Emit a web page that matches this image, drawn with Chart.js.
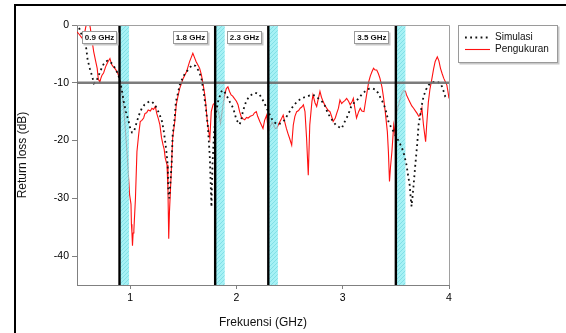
<!DOCTYPE html>
<html><head><meta charset="utf-8">
<script src="https://cdn.jsdelivr.net/npm/chart.js@4.4.0/dist/chart.umd.min.js"></script>
<style>html,body{margin:0;padding:0;background:#fff;}#wrap{width:566px;height:333px;position:relative;}</style>
</head><body><div id="wrap"><canvas id="c" width="566" height="333"></canvas></div>
<script>
// ---- data ----
const seriesNames = ['Simulasi', 'Pengukuran'];
const freqSim = [0.52,0.55,0.585,0.60,0.62,0.64,0.66,0.68,0.70,0.72,0.74,0.76,0.785,0.81,0.835,0.86,0.89,0.91,0.925,0.94,0.96,0.986,1.00,1.017,1.035,1.05,1.064,1.085,1.11,1.135,1.16,1.18,1.205,1.23,1.25,1.275,1.30,1.315,1.33,1.343,1.353,1.36,1.368,1.38,1.39,1.40,1.42,1.43,1.45,1.466,1.50,1.52,1.544,1.565,1.59,1.615,1.64,1.655,1.67,1.685,1.70,1.715,1.73,1.74,1.75,1.765,1.775,1.79,1.81,1.83,1.86,1.88,1.91,1.94,1.97,2.00,2.03,2.045,2.06,2.09,2.115,2.14,2.165,2.19,2.215,2.24,2.27,2.30,2.33,2.36,2.39,2.42,2.45,2.49,2.52,2.545,2.57,2.61,2.66,2.69,2.72,2.745,2.77,2.795,2.82,2.84,2.86,2.885,2.91,2.935,2.96,2.99,3.02,3.05,3.08,3.11,3.15,3.18,3.21,3.235,3.26,3.285,3.31,3.33,3.35,3.375,3.40,3.415,3.43,3.455,3.48,3.505,3.53,3.55,3.57,3.585,3.60,3.615,3.63,3.64,3.648,3.655,3.667,3.683,3.70,3.714,3.73,3.745,3.76,3.783,3.808,3.84,3.87,3.895,3.92,3.935,3.95,3.965,3.98];
const rlSim = [-0.5,-2.0,-3.8,-6.0,-7.5,-8.7,-10.1,-9.8,-8.9,-8.0,-7.1,-6.5,-6.2,-6.3,-6.8,-7.5,-8.7,-10.1,-11.6,-13.3,-15.0,-16.7,-17.8,-18.6,-18.5,-17.6,-16.7,-15.5,-14.4,-13.8,-13.5,-13.2,-13.3,-13.7,-14.4,-15.4,-16.7,-18.2,-20.2,-22.2,-24.2,-28.8,-30.0,-27.0,-24.2,-19.0,-16.0,-13.3,-11.8,-10.4,-8.9,-8.3,-7.8,-7.3,-6.9,-7.1,-7.8,-8.4,-9.2,-10.8,-12.7,-14.8,-17.3,-20.0,-23.0,-31.5,-24.0,-18.5,-15.0,-13.0,-11.5,-11.3,-12.3,-13.4,-14.4,-16.4,-17.2,-16.5,-15.0,-13.3,-12.5,-12.1,-11.8,-11.8,-12.0,-12.7,-13.8,-15.0,-16.2,-16.9,-17.2,-17.0,-16.5,-15.3,-14.4,-13.8,-13.3,-12.7,-12.4,-12.2,-12.1,-12.3,-12.7,-13.1,-13.5,-14.3,-15.3,-16.0,-16.7,-17.3,-17.6,-17.9,-16.7,-15.6,-14.1,-13.4,-12.7,-12.0,-11.5,-11.1,-11.0,-11.0,-11.2,-11.7,-12.4,-13.3,-14.4,-15.5,-16.7,-17.7,-18.5,-19.4,-20.2,-21.0,-21.9,-23.0,-24.2,-26.0,-27.7,-30.0,-31.4,-30.0,-27.7,-24.2,-20.8,-17.3,-15.6,-13.8,-12.4,-11.2,-10.4,-9.9,-9.8,-9.9,-10.1,-10.7,-11.5,-12.4,-12.6];
const freqMeas = [0.50,0.52,0.545,0.57,0.595,0.61,0.625,0.64,0.657,0.675,0.69,0.70,0.715,0.725,0.735,0.75,0.77,0.79,0.81,0.825,0.84,0.86,0.88,0.90,0.91,0.94,0.97,0.995,1.008,1.012,1.017,1.022,1.028,1.035,1.05,1.064,1.08,1.095,1.11,1.127,1.14,1.155,1.17,1.19,1.205,1.22,1.237,1.25,1.265,1.28,1.295,1.31,1.32,1.33,1.347,1.356,1.363,1.37,1.387,1.40,1.42,1.434,1.45,1.466,1.50,1.53,1.56,1.575,1.59,1.605,1.62,1.64,1.654,1.67,1.685,1.70,1.71,1.726,1.74,1.75,1.763,1.78,1.795,1.81,1.83,1.85,1.874,1.89,1.905,1.92,1.935,1.95,1.965,1.98,2.00,2.015,2.03,2.046,2.06,2.078,2.095,2.11,2.13,2.156,2.17,2.187,2.20,2.22,2.235,2.25,2.265,2.285,2.30,2.32,2.335,2.35,2.365,2.38,2.395,2.41,2.425,2.44,2.455,2.47,2.485,2.50,2.52,2.535,2.55,2.567,2.585,2.60,2.615,2.63,2.645,2.66,2.676,2.69,2.71,2.72,2.74,2.755,2.77,2.786,2.80,2.817,2.835,2.85,2.865,2.88,2.895,2.91,2.93,2.945,2.96,2.974,2.99,3.005,3.02,3.037,3.055,3.07,3.09,3.10,3.115,3.13,3.15,3.165,3.18,3.20,3.215,3.23,3.245,3.26,3.275,3.29,3.305,3.32,3.335,3.35,3.37,3.385,3.40,3.42,3.43,3.44,3.45,3.463,3.48,3.494,3.51,3.53,3.557,3.575,3.59,3.60,3.62,3.636,3.65,3.667,3.685,3.70,3.715,3.73,3.745,3.76,3.78,3.79,3.806,3.82,3.84,3.855,3.87,3.89,3.905,3.92,3.935,3.95,3.965,3.98,3.99,4.00];
const rlMeas = [-1.2,-1.6,-2.2,-1.5,0.8,1.0,-0.5,-2.5,-4.6,-6.2,-7.5,-9.3,-9.9,-9.2,-8.7,-8.3,-7.2,-6.4,-5.8,-6.8,-7.2,-7.6,-8.2,-9.2,-10.1,-14.4,-21.9,-29.4,-31.0,-34.5,-36.0,-38.2,-36.0,-35.5,-30.0,-21.9,-19.0,-16.7,-16.5,-16.1,-15.3,-15.2,-14.7,-14.9,-14.4,-14.6,-14.1,-15.3,-16.2,-17.3,-19.5,-20.8,-21.5,-23.0,-24.2,-28.8,-37.0,-32.3,-25.4,-19.6,-16.7,-13.8,-12.3,-11.0,-9.2,-8.1,-6.3,-5.6,-4.9,-5.6,-6.3,-7.0,-7.5,-8.6,-10.1,-11.8,-13.3,-16.7,-18.5,-19.6,-15.0,-13.8,-13.5,-14.0,-15.0,-17.0,-13.8,-12.0,-11.0,-10.7,-11.5,-12.1,-12.3,-12.7,-13.2,-13.8,-15.0,-15.9,-16.2,-16.4,-16.0,-16.1,-15.8,-15.6,-15.2,-15.0,-15.8,-16.7,-17.3,-17.9,-16.5,-15.6,-18.5,-17.5,-16.8,-17.3,-17.9,-17.9,-17.2,-16.7,-16.2,-15.6,-16.8,-17.9,-18.8,-19.6,-20.8,-17.3,-15.8,-15.0,-14.8,-14.4,-14.2,-13.8,-15.0,-19.6,-26.0,-17.3,-13.3,-12.1,-13.5,-14.1,-12.8,-11.5,-12.5,-13.3,-14.0,-14.4,-14.8,-15.0,-15.8,-16.7,-16.1,-15.2,-14.4,-13.0,-13.6,-13.3,-13.1,-12.7,-13.2,-13.8,-13.2,-12.7,-14.5,-16.1,-15.0,-14.4,-14.9,-15.0,-13.2,-11.5,-9.8,-8.8,-8.1,-7.5,-7.8,-7.8,-8.4,-9.2,-10.8,-12.7,-15.0,-18.5,-22.0,-27.1,-24.5,-21.9,-17.3,-19.0,-15.0,-13.5,-11.8,-11.3,-11.5,-12.1,-12.9,-13.5,-14.0,-14.4,-14.9,-15.3,-15.8,-15.6,-14.4,-17.3,-20.2,-17.3,-13.3,-11.2,-9.2,-7.6,-6.3,-5.5,-6.2,-7.5,-8.4,-9.2,-9.8,-10.4,-11.5,-12.7];
const xTickValues = [1, 2, 3, 4];
const yTickValues = [0, -10, -20, -30, -40];
const bandStart = [0.9, 1.8, 2.3, 3.5];
const bandEnd = [0.99, 1.89, 2.39, 3.59];
const bandLabels = ['0.9 GHz', '1.8 GHz', '2.3 GHz', '3.5 GHz'];
const refLevel = [-10];

// ---- annotation placement (GHz centres of label boxes) ----
const labelCentres = [0.712, 1.568, 2.076, 3.275];

Chart.defaults.font.family = 'Arial, "Liberation Sans", sans-serif';

function makePattern(ctx) {
  const p = document.createElement('canvas');
  p.width = 4; p.height = 4;
  const g = p.getContext('2d');
  g.fillStyle = '#8eedf2';
  g.fillRect(0, 0, 4, 4);
  g.strokeStyle = '#5fd6df';
  g.lineWidth = 1;
  g.beginPath();
  g.moveTo(0, 4); g.lineTo(4, 0);
  g.moveTo(-1, 1); g.lineTo(1, -1);
  g.moveTo(3, 5); g.lineTo(5, 3);
  g.stroke();
  return ctx.createPattern(p, 'repeat');
}

function boxWithShadow(ctx, x, y, w, h) {
  ctx.fillStyle = '#c8c8c8';
  ctx.fillRect(x + 1.5, y + 1.5, w, h);
  ctx.fillStyle = '#fff';
  ctx.fillRect(x, y, w, h);
  ctx.strokeStyle = '#9a9a9a';
  ctx.lineWidth = 1;
  ctx.strokeRect(x + 0.5, y + 0.5, w - 1, h - 1);
}

const deco = {
  id: 'deco',
  afterDatasetDraw(chart, args) {
    if (args.index !== 1) return;
    const {ctx, chartArea: a, scales: {x}} = chart;
    ctx.save();
    ctx.globalAlpha = 0.78;
    ctx.fillStyle = makePattern(ctx);
    for (let i = 0; i < bandStart.length; i++) {
      const x0 = x.getPixelForValue(bandStart[i]);
      const x1 = x.getPixelForValue(bandEnd[i]);
      ctx.fillRect(x0, a.top, x1 - x0, a.bottom - a.top);
    }
    ctx.restore();
  },
  afterDatasetsDraw(chart) {
    const {ctx, chartArea: a, scales: {x, y}} = chart;
    ctx.save();
    // reference level
    const yr = y.getPixelForValue(refLevel[0]);
    ctx.strokeStyle = 'rgba(110,110,110,0.9)';
    ctx.lineWidth = 2.6;
    ctx.beginPath(); ctx.moveTo(a.left, yr); ctx.lineTo(a.right, yr); ctx.stroke();
    // band start lines
    ctx.strokeStyle = '#000';
    ctx.lineWidth = 2.4;
    for (const f of bandStart) {
      const xp = x.getPixelForValue(f);
      ctx.beginPath(); ctx.moveTo(xp, a.top); ctx.lineTo(xp, a.bottom); ctx.stroke();
    }
    // plot frame top/right
    ctx.strokeStyle = '#a0a0a0';
    ctx.lineWidth = 1;
    ctx.beginPath();
    ctx.moveTo(a.left, a.top + 0.5); ctx.lineTo(a.right + 0.5, a.top + 0.5); ctx.lineTo(a.right + 0.5, a.bottom);
    ctx.stroke();
    // labels
    ctx.font = 'bold 8px Arial, "Liberation Sans", sans-serif';
    ctx.textAlign = 'center';
    ctx.textBaseline = 'middle';
    for (let i = 0; i < bandLabels.length; i++) {
      const cx = x.getPixelForValue(labelCentres[i]);
      boxWithShadow(ctx, Math.round(cx - 17.5), a.top + 6, 35, 13);
      ctx.fillStyle = '#111';
      ctx.fillText(bandLabels[i], cx, a.top + 12.8);
    }
    // legend
    const lx = a.right + 9, ly = a.top;
    boxWithShadow(ctx, lx, ly, 100, 38);
    const ds = chart.data.datasets;
    ctx.font = '10px Arial, "Liberation Sans", sans-serif';
    ctx.textAlign = 'left';
    for (let i = 0; i < ds.length; i++) {
      const yy = ly + 12.5 + i * 12;
      ctx.save();
      ctx.strokeStyle = ds[i].borderColor;
      ctx.lineWidth = ds[i].borderWidth;
      ctx.setLineDash(ds[i].borderDash || []);
      ctx.beginPath(); ctx.moveTo(lx + 7, yy); ctx.lineTo(lx + 32, yy); ctx.stroke();
      ctx.restore();
      ctx.fillStyle = '#111';
      ctx.fillText(ds[i].label, lx + 37, yy);
    }
    // outer frame
    ctx.strokeStyle = '#000';
    ctx.lineWidth = 2;
    ctx.beginPath(); ctx.moveTo(15, 333); ctx.lineTo(15, 5); ctx.lineTo(566, 5); ctx.stroke();
    ctx.restore();
  }
};

new Chart(document.getElementById('c'), {
  type: 'line',
  data: {
    datasets: [
      {
        label: seriesNames[0],
        data: freqSim.map((f, i) => ({x: f, y: rlSim[i]})),
        borderColor: '#111',
        borderWidth: 1.8,
        borderDash: [1.8, 3.4],
        pointRadius: 0,
        tension: 0,
        order: 1
      },
      {
        label: seriesNames[1],
        data: freqMeas.map((f, i) => ({x: f, y: rlMeas[i]})),
        borderColor: '#ff1010',
        borderWidth: 1.1,
        pointRadius: 0,
        tension: 0,
        order: 2
      }
    ]
  },
  options: {
    responsive: false,
    animation: false,
    devicePixelRatio: 1,
    layout: {padding: {left: 15, top: 25, right: 117, bottom: 0}},
    plugins: {legend: {display: false}, tooltip: {enabled: false}},
    scales: {
      x: {
        type: 'linear', min: 0.5, max: 4,
        afterBuildTicks: s => { s.ticks = xTickValues.map(v => ({value: v})); },
        afterFit: s => { s.height = 48; },
        ticks: {color: '#000', font: {size: 10.5}, padding: 3, maxRotation: 0, autoSkip: false},
        grid: {drawOnChartArea: false, drawTicks: true, tickLength: 4, color: '#808080'},
        border: {color: '#808080', width: 1},
        title: {display: true, text: 'Frekuensi (GHz)', color: '#111', font: {size: 12}, padding: {top: 0, bottom: 2.8}}
      },
      y: {
        type: 'linear', min: -45, max: 0,
        afterBuildTicks: s => { s.ticks = yTickValues.map(v => ({value: v})); },
        afterFit: s => { s.width = 62; },
        ticks: {color: '#000', font: {size: 10.5}, padding: 3, autoSkip: false},
        grid: {drawOnChartArea: false, drawTicks: true, tickLength: 5, color: '#808080'},
        border: {color: '#808080', width: 1},
        title: {display: true, text: 'Return loss (dB)', color: '#111', font: {size: 12}, padding: {top: 0.8, bottom: 0}}
      }
    }
  },
  plugins: [deco]
});
</script></body></html>
